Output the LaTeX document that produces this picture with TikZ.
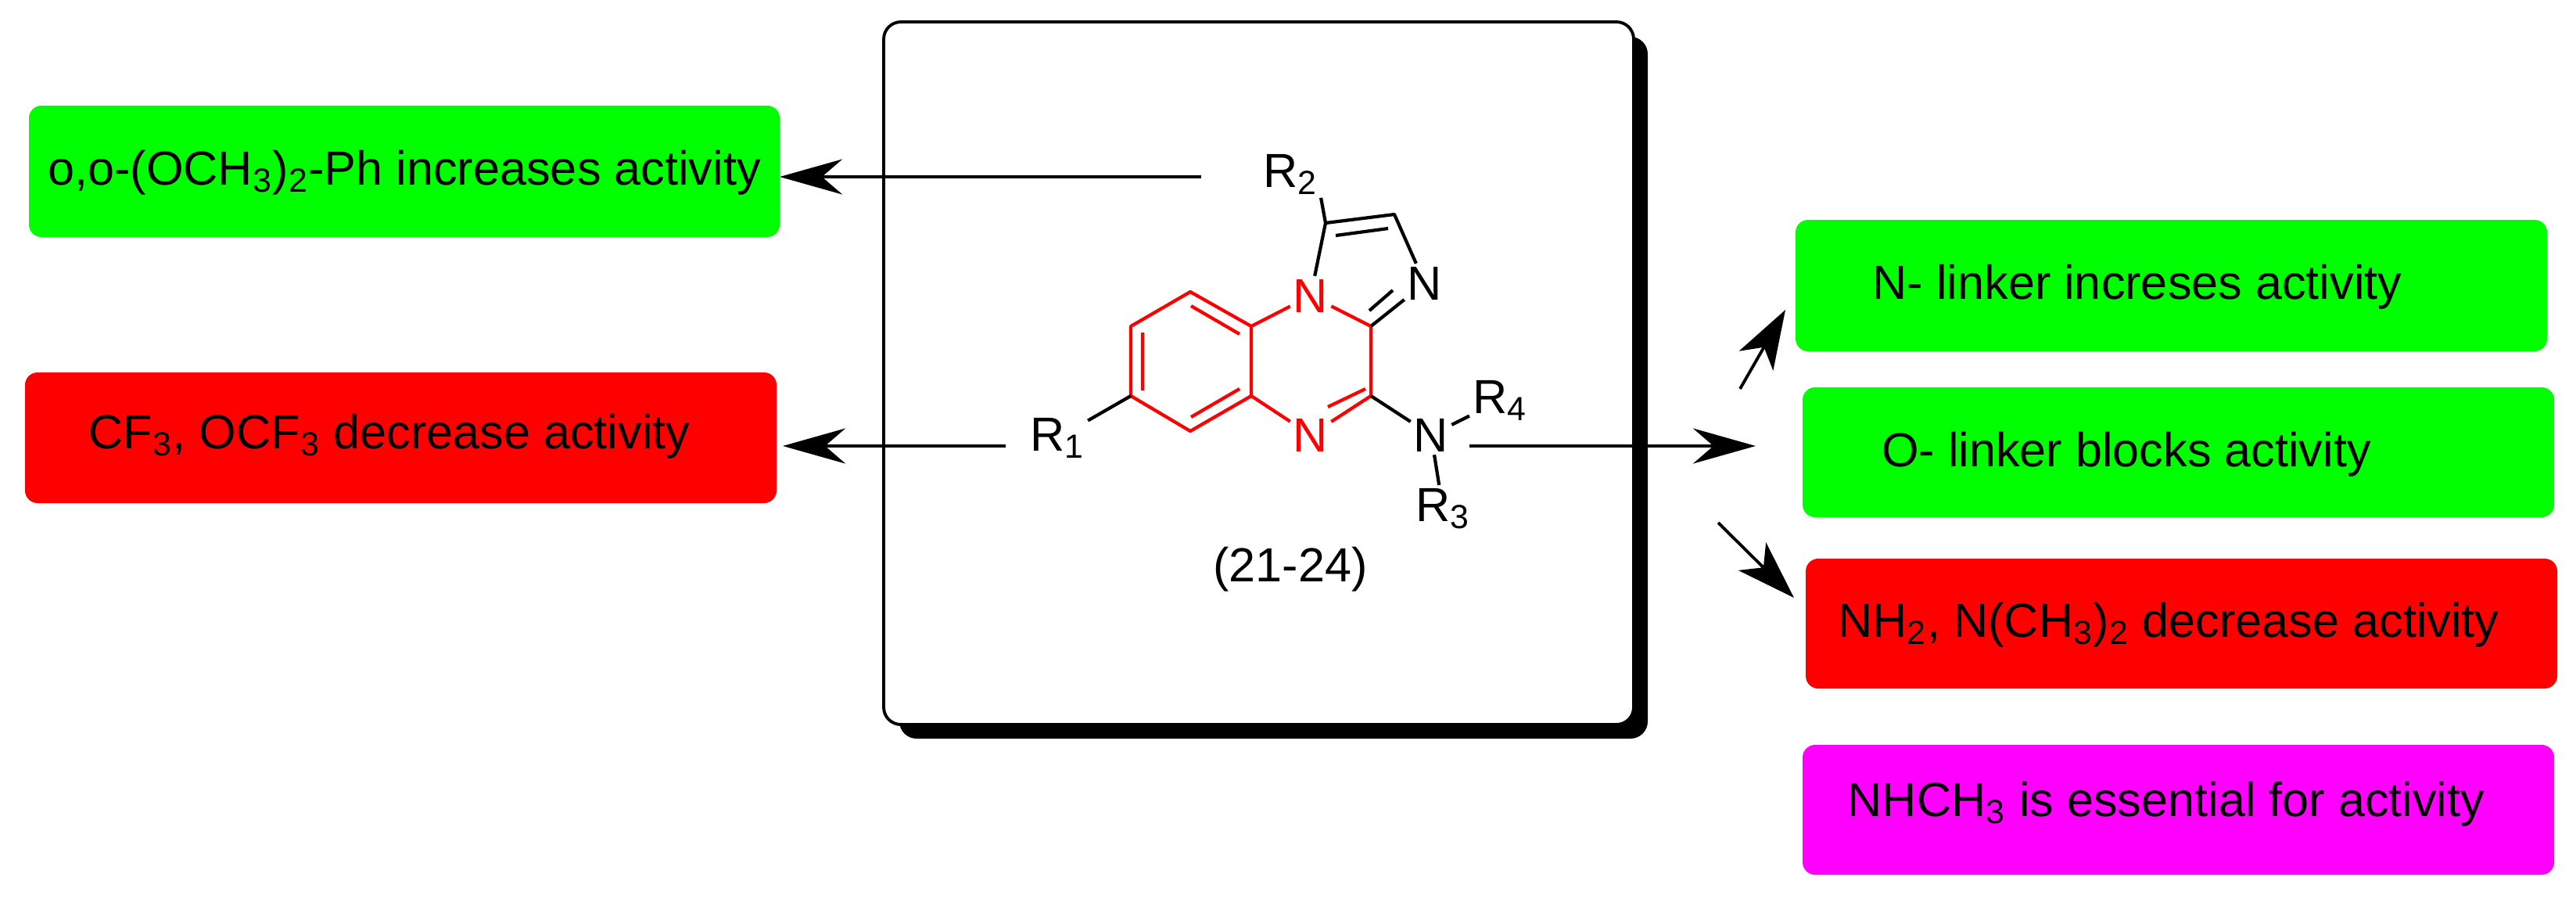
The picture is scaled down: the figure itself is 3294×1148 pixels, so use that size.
\documentclass[tikz,border=0pt]{standalone}
\usepackage{fontspec}
\setmainfont{Liberation Sans}
\usetikzlibrary{arrows.meta}
\begin{document}
\begin{tikzpicture}[x=0.01cm,y=-0.01cm,
  every node/.style={font=\fontsize{17.4}{20}\selectfont},
  info/.style={rounded corners=0.16cm,draw=none},
  arr/.style={line width=1.1pt,-{Stealth[length=0.8cm,width=0.45cm,inset=0.26cm]}},
  sarr/.style={line width=1.1pt,-{Stealth[length=0.75cm,width=0.5cm,inset=0.2cm]}},
  bond/.style={line width=1.2pt,red},
  kbond/.style={line width=1.2pt,black},
  atom/.style={inner sep=1pt,red},
  lab/.style={inner sep=1pt}]
\useasboundingbox (0,0) rectangle (3294,1148);
% left boxes
\fill[info,fill={rgb,255:red,0;green,255;blue,0}] (37,135) rectangle (997,303);
\node (tL1) at (517,221) {o,o-(OCH\textsubscript{3})\textsubscript{2}-Ph increases activity};
\fill[info,fill={rgb,255:red,255;green,0;blue,0}] (32,476) rectangle (993,643);
\node (tL2) at (498,558) {CF\textsubscript{3}, OCF\textsubscript{3} decrease activity};
% right boxes
\fill[info,fill={rgb,255:red,0;green,255;blue,0}] (2296,281) rectangle (3257,449);
\node (tR1) at (2733,367) {N- linker increses activity};
\fill[info,fill={rgb,255:red,0;green,255;blue,0}] (2305,495) rectangle (3266,661);
\node (tR2) at (2719,581) {O- linker blocks activity};
\fill[info,fill={rgb,255:red,255;green,0;blue,0}] (2309,714) rectangle (3270,880);
\node (tR3) at (2773,799) {NH\textsubscript{2}, N(CH\textsubscript{3})\textsubscript{2} decrease activity};
\fill[info,fill={rgb,255:red,255;green,0;blue,255}] (2305,952) rectangle (3266,1118);
\node (tR4) at (2770,1028) {NHCH\textsubscript{3} is essential for activity};
% main box with shadow
\fill[black,rounded corners=0.22cm] (1150,47) rectangle (2107,944);
\draw[line width=1.1pt,fill=white,rounded corners=0.22cm] (1130,28) rectangle (2089,926);
% molecule
\coordinate (c8) at (1522,373);
\coordinate (c8a) at (1600,417);
\coordinate (c4a) at (1600,506);
\coordinate (c9) at (1522,551);
\coordinate (c7) at (1446,506);
\coordinate (c6) at (1446,417);
\coordinate (c3a) at (1753,417);
\coordinate (c4) at (1753,506);
\coordinate (c1) at (1695,285);
\coordinate (c2) at (1783,274);
\node[atom] (n1) at (1676,378) {N};
\node[atom] (n5) at (1676,556) {N};
\node[lab] (n3) at (1822,362) {N};
\node[lab] (na) at (1830,556) {N};
\node[lab] (r2) at (1650,223) {R\textsubscript{2}};
\node[lab] (r1) at (1352,560) {R\textsubscript{1}};
\node[lab] (r4) at (1918,512) {R\textsubscript{4}};
\node[lab] (r3) at (1845,650) {R\textsubscript{3}};
\node[lab] (cmp) at (1650,728) {(21-24)};
\draw[bond,line join=round] (c8)--(c8a)--(c4a)--(c9)--(c7)--(c6)--cycle;
\draw[bond,line join=round] (c8a)--(n1)--(c3a)--(c4)--(n5)--(c4a);
\draw[bond] (1461,425)--(1461,499) (1523,391)--(1585,427) (1523,533)--(1585,497) (1698,520)--(1746,497);
\draw[kbond,line join=round] (n1)--(c1)--(c2)--(n3)--(c3a);
\draw[kbond] (1751,397)--(1781,371) (1708,301)--(1775,292);
\draw[kbond] (c1)--(r2.south east);
\draw[kbond] (c7)--(r1);
\draw[kbond] (c4)--(na)--(r4);
\draw[kbond] (na)--(r3);
% arrows
\coordinate (s1) at (1536,226);
\coordinate (s2) at (1286,570);
\coordinate (s3) at (1879,570);
\coordinate (s4) at (2225,497);
\coordinate (s5) at (2197,668);
\draw[arr] (s1)--(997,226) coordinate (e1);
\draw[arr] (s2)--(1001,570) coordinate (e2);
\draw[arr] (s3)--(2245,570) coordinate (e3);
\draw[sarr] (s4)--(2283,396);
\draw[sarr] (s5)--(2294,764);
\end{tikzpicture}
\end{document}
